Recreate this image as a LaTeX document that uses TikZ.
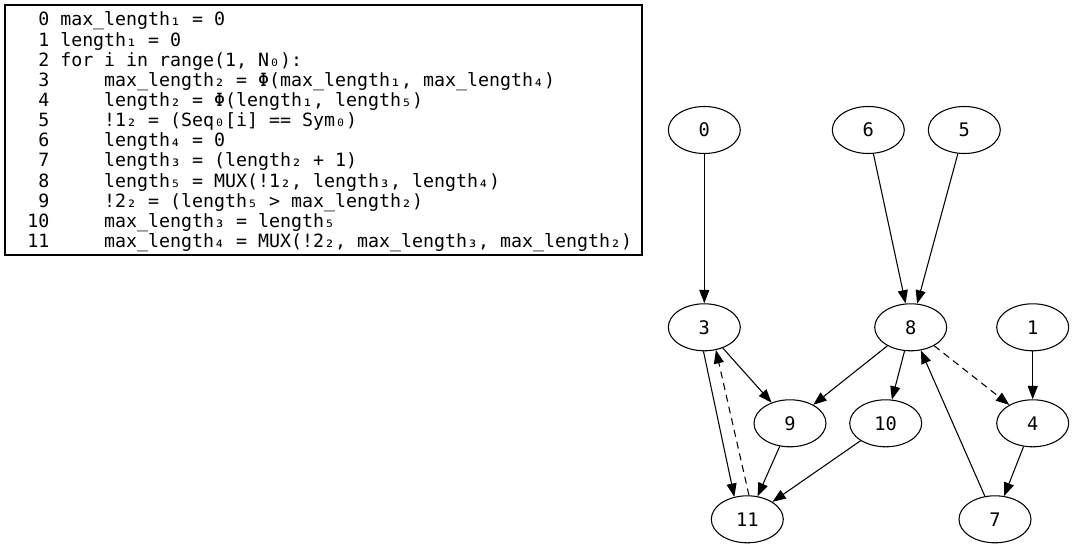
\documentclass[tikz,border=0pt]{standalone}
\usepackage{fontspec}
\usepackage{tikz}
\usetikzlibrary{positioning}
\usetikzlibrary{calc}
\usetikzlibrary{arrows.meta}
\usetikzlibrary{shapes.geometric}

\newfontfamily\codefont{DejaVu Sans Mono}

\tikzset{
    op/.style={draw, ellipse, line width=0.8pt, minimum width=54pt, minimum height=35.25pt, inner sep=0pt,
        font=\codefont\fontsize{14}{16.8}\selectfont},
    dep/.style={draw, line width=0.8pt, -{Triangle[length=10pt,width=7.5pt]}},
    carried/.style={dep, dash pattern=on 5.25pt off 3.75pt}
}

\begin{document}
\begin{tikzpicture}[x=0.75pt, y=-0.75pt]

\useasboundingbox (0,0) rectangle (1074,549);

% listing
\path[draw, line width=0.8pt] (5,5) rectangle (642,255);
\node (listing) [anchor=base west, inner sep=0pt, font=\codefont\fontsize{13.7}{15.1}\selectfont] at (27,26) {%
\begin{tabular}[t]{@{}r@{~}l@{}}
0 & max\_length₁ = 0\\
1 & length₁ = 0\\
2 & for i in range(1, N₀):\\
3 & ~~~~max\_length₂ = Φ(max\_length₁, max\_length₄)\\
4 & ~~~~length₂ = Φ(length₁, length₅)\\
5 & ~~~~!1₂ = (Seq₀[i] == Sym₀)\\
6 & ~~~~length₄ = 0\\
7 & ~~~~length₃ = (length₂ + 1)\\
8 & ~~~~length₅ = MUX(!1₂, length₃, length₄)\\
9 & ~~~~!2₂ = (length₅ > max\_length₂)\\
10 & ~~~~max\_length₃ = length₅\\
11 & ~~~~max\_length₄ = MUX(!2₂, max\_length₃, max\_length₂)
\end{tabular}};

% graph
\node (n0) [op] at (704.3,130) {0};
\node (n6) [op] at (868.3,130) {6};
\node (n5) [op] at (964.3,130) {5};

\node (n3) [op] at (704.3,327.3) {3};
\node (n8) [op] at (910.7,327.3) {8};
\node (n1) [op] at (1032.7,327.3) {1};

\node (n9) [op] at (790,423.3) {9};
\node (n10) [op] at (885.7,423.3) {10};
\node (n4) [op] at (1032.7,423.3) {4};

\node (n11) [op] at (747.3,519.3) {11};
\node (n7) [op] at (995,519.3) {7};

\path[dep] (n0) -- (n3);
\path[dep] (n6) -- (n8);
\path[dep] (n5) -- (n8);
\path[dep] (n3) -- (n9);
\path[dep] (n3.268) -- (n11.120);
\path[carried] (n11.86) -- (n3.297);
\path[dep] (n8) -- (n9);
\path[dep] (n8) -- (n10);
\path[carried] (n8) -- (n4);
\path[dep] (n1) -- (n4);
\path[dep] (n9) -- (n11);
\path[dep] (n10) -- (n11);
\path[dep] (n4) -- (n7);
\path[dep] (n7) -- (n8);

\end{tikzpicture}
\end{document}
